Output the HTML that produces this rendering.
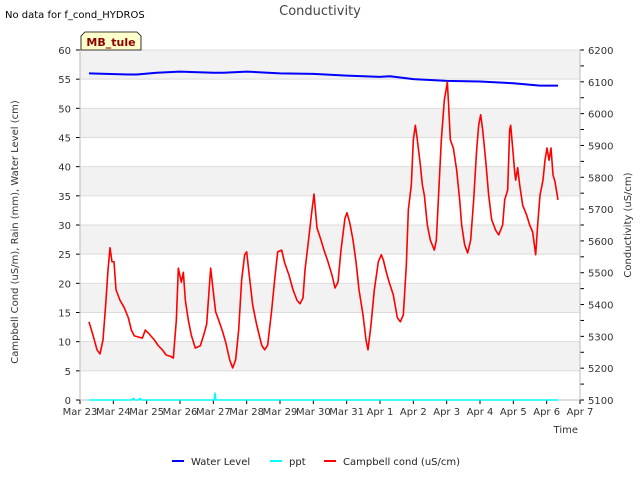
<!DOCTYPE html>
<html><head><meta charset="utf-8"><style>
body{margin:0;background:#fff;font-family:"DejaVu Sans",sans-serif}
svg text{font-family:"DejaVu Sans","Liberation Sans",sans-serif}
</style></head><body>
<svg id="c" width="640" height="480" xmlns="http://www.w3.org/2000/svg"></svg>
<script>
const condT=[.27,.39,.51,.60,.69,.78,.84,.90,.96,1.02,1.08,1.20,1.33,1.45,1.54,1.63,1.75,1.87,1.96,2.08,2.23,2.35,2.47,2.59,2.71,2.80,2.89,2.95,3.04,3.10,3.16,3.25,3.34,3.46,3.61,3.73,3.80,3.92,4.01,4.07,4.16,4.28,4.37,4.49,4.58,4.67,4.76,4.85,4.94,5.00,5.06,5.18,5.30,5.45,5.54,5.63,5.75,5.84,5.93,6.05,6.14,6.27,6.39,6.51,6.60,6.69,6.75,6.84,6.96,7.02,7.11,7.23,7.32,7.44,7.56,7.65,7.74,7.83,7.95,8.01,8.10,8.19,8.28,8.37,8.49,8.58,8.64,8.73,8.83,8.95,9.04,9.10,9.19,9.28,9.40,9.52,9.61,9.70,9.79,9.85,9.94,10.00,10.06,10.12,10.21,10.27,10.33,10.42,10.51,10.63,10.69,10.75,10.84,10.93,11.02,11.05,11.11,11.20,11.30,11.39,11.45,11.54,11.63,11.72,11.81,11.90,11.96,12.02,12.08,12.17,12.26,12.35,12.47,12.56,12.68,12.74,12.83,12.89,12.92,12.98,13.04,13.07,13.13,13.19,13.28,13.40,13.49,13.58,13.67,13.73,13.80,13.89,13.95,14.01,14.07,14.13,14.19,14.25,14.34];
const condV=[13.4,11.1,8.6,7.9,10.3,17.1,22.3,26.1,23.7,23.7,18.9,17.1,15.8,14.1,12.0,11.0,10.8,10.6,12.0,11.3,10.3,9.3,8.6,7.7,7.5,7.2,13.7,22.6,20.2,21.9,17.1,13.7,11.1,8.9,9.3,11.5,13.0,22.6,18.0,15.1,13.7,11.7,9.9,6.9,5.5,6.9,12.0,20.6,24.9,25.4,22.3,16.3,12.9,9.4,8.6,9.4,15.4,20.6,25.4,25.7,23.5,21.4,18.9,17.1,16.5,17.5,22.3,26.6,32.6,35.3,29.5,27.4,25.7,23.7,21.4,19.2,20.2,25.7,31.2,32.1,30.2,27.4,23.7,18.9,14.6,10.3,8.6,12.9,18.9,23.7,24.9,24.0,21.9,20.1,18.0,14.1,13.4,14.6,23.1,32.6,36.9,44.6,47.1,44.6,40.3,36.9,35.1,30.0,27.4,25.7,27.4,34.3,44.6,51.4,54.5,51.4,44.6,43.2,39.4,34.3,30.0,26.6,25.2,27.4,34.3,42.9,47.1,48.9,46.3,41.1,35.1,30.9,29.1,28.3,30.0,34.3,36.0,46.3,47.1,43.2,39.1,37.7,39.8,36.9,33.4,31.7,30.0,28.8,24.9,30.0,35.1,37.7,41.1,43.2,41.1,43.2,38.6,37.4,34.3];
const wlT=[.27,1.5,1.7,2.3,3.0,4.0,4.3,5.0,6.0,7.0,8.0,9.0,9.3,10.0,11.0,12.0,13.0,13.8,14.34];
const wlV=[56,55.8,55.8,56.1,56.3,56.1,56.1,56.3,56.0,55.9,55.6,55.4,55.5,55.0,54.7,54.6,54.3,53.9,53.9];
const pptT=[.27,1.55,1.6,1.65,1.75,1.8,1.85,4.02,4.05,4.08,14.34];
const pptV=[0,0,0.3,0,0,0.3,0,0,1.2,0,0];
const xLabels=["Mar 23","Mar 24","Mar 25","Mar 26","Mar 27","Mar 28","Mar 29","Mar 30","Mar 31","Apr 1","Apr 2","Apr 3","Apr 4","Apr 5","Apr 6","Apr 7"];
const yTicks=[0,5,10,15,20,25,30,35,40,45,50,55,60];
const y2Ticks=[5100,5200,5300,5400,5500,5600,5700,5800,5900,6000,6100,6200];

const svg=document.getElementById('c');const NS="http://www.w3.org/2000/svg";
const L=80,R=580,T=50,B=400;
const X=d=>L+d*(R-L)/15, Y=v=>B-v*(B-T)/60, Y2=v=>B-(v-5100)*(B-T)/1100;
function el(t,a,p){const e=document.createElementNS(NS,t);for(const k in a)e.setAttribute(k,a[k]);(p||svg).appendChild(e);return e;}
function tx(s,a){const e=el('text',a);e.textContent=s;return e;}
el('rect',{x:L,y:T,width:R-L,height:B-T,fill:'#fff'});
for(let v=5;v<60;v+=10){const r=el('rect',{x:L,y:Y(v+5),width:R-L,height:Y(v)-Y(v+5),fill:'#f2f2f2'});
}
yTicks.forEach(v=>{el('line',{x1:L,x2:R,y1:Y(v),y2:Y(v),stroke:'#dcdcdc'});
el('line',{x1:L-4,x2:L,y1:Y(v),y2:Y(v),stroke:'#000'});
const t=tx(v,{x:L-9,y:Y(v)+4,'text-anchor':'end','font-size':10,fill:'#333'});
});
y2Ticks.forEach(v=>{el('line',{x1:R,x2:R+4,y1:Y2(v),y2:Y2(v),stroke:'#000'});
if(v<6200)el('line',{x1:R,x2:R+4,y1:Y2(v+50),y2:Y2(v+50),stroke:'#000'});
const t=tx(v,{x:R+8,y:Y2(v)+4,'font-size':10,fill:'#333'});
});
xLabels.forEach((s,i)=>{el('line',{x1:X(i),x2:X(i),y1:B,y2:B+4,stroke:'#000'});
const t=tx(s,{x:X(i),y:B+15,'text-anchor':'middle','font-size':10,fill:'#333'});
});
el('line',{x1:R,x2:R,y1:T,y2:B,stroke:'#bbb'});el('line',{x1:L,x2:R,y1:B,y2:B,stroke:'#bbb'});el('line',{x1:L,x2:L,y1:T,y2:B,stroke:'#bbb'});
function line(ts,vs,c,w,n){const p=el('polyline',{points:ts.map((t,i)=>X(t)+','+Y(vs[i])).join(' '),fill:'none',stroke:c,'stroke-width':w,'stroke-linejoin':'round'});
}
line(pptT,pptV,'#00ffff',1.5,'ppt-line');
line(wlT,wlV,'#0000ff',2,'water-level-line');
line(condT,condV,'#ff0000',1.6,'campbell-cond-line');
let t;
t=tx('Conductivity',{x:320,y:15,'text-anchor':'middle','font-size':13,fill:'#444'});
t=tx('No data for f_cond_HYDROS',{x:5,y:18,'font-size':10,fill:'#000'});
t=tx('Time',{x:578,y:433,'text-anchor':'end','font-size':10,fill:'#333'});
t=tx('Campbell Cond (uS/m), Rain (mm), Water Level (cm)',{x:0,y:0,'text-anchor':'middle','font-size':10,fill:'#333',transform:'translate(18,232) rotate(-90)'});
t=tx('Conductivity (uS/cm)',{x:0,y:0,'text-anchor':'middle','font-size':10,fill:'#333',transform:'translate(631,225) rotate(-90)'});
const tag=el('path',{d:'M81,50 L81,36 L85,32 L137,32 L141,36 L141,50 Z',fill:'#ffffcc',stroke:'#000','stroke-width':0.8});
t=tx('MB_tule',{x:111,y:46,'text-anchor':'middle','font-size':11,'font-weight':'bold',fill:'#8b0000'});
[['Water Level','#0000ff',172],['ppt','#00ffff',270],['Campbell cond (uS/cm)','#ff0000',324]].forEach(([s,c,x])=>{
const g=el('g',{});
el('line',{x1:x,x2:x+12,y1:461,y2:461,stroke:c,'stroke-width':2},g);
const e=el('text',{x:x+19,y:465,'font-size':10,fill:'#222'},g);e.textContent=s;});
</script>
</body></html>
